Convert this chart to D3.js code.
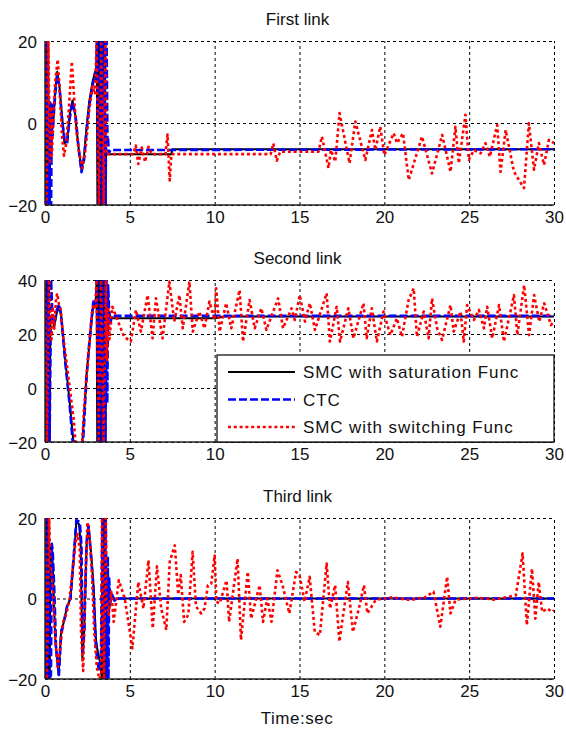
<!DOCTYPE html>
<html>
<head>
<meta charset="utf-8">
<script src="https://cdn.jsdelivr.net/npm/d3@7"></script>
<style>
  body { margin: 0; background: #fff; }
  svg { font-family: "Liberation Sans", Arial, sans-serif; }
  .grid line { stroke: #000; stroke-dasharray: 3,3; stroke-width: 1; }
  .grid text { font-size: 17px; fill: #111; }
</style>
</head>
<body>
<svg id="chart" width="566" height="732"></svg>
<script>
// time axis ticks (sec)
var timeTicks = [0, 5, 10, 15, 20, 25, 30];
var titles = ["First link", "Second link", "Third link"];
var yTicks1 = [-20, 0, 20];
var yTicks2 = [-20, 0, 20, 40];
var yTicks3 = [-20, 0, 20];
var seriesNames = ["SMC with saturation Func", "CTC", "SMC with switching Func"];

// ---- First link: [time, value] ----
var link1Sat = [[0,20],[0.03,-20],[0.06,20],[0.09,-20],[0.12,20],[0.15,-20],[0.18,20],[0.21,-20],[0.24,5],[0.28,-20],[0.32,4],[0.36,-6],[0.42,3],[0.5,1],[0.6,8],[0.72,12.5],[0.85,9],[1.0,2],[1.15,-5],[1.3,-4.5],[1.45,2],[1.62,5.5],[1.75,3],[1.95,-5],[2.15,-11.5],[2.3,-8],[2.45,-1],[2.6,5],[2.8,10],[2.95,12.5],[3.02,10],[3.05,20],[3.09,-20],[3.13,20],[3.17,-20],[3.21,20],[3.25,-20],[3.29,20],[3.33,-20],[3.37,20],[3.41,-20],[3.45,20],[3.49,-20],[3.53,20],[3.57,-20],[3.6,-7.6],[7.45,-7.6],[7.5,-6.4],[30,-6.4]];
var link1Ctc = [[0,20],[0.08,-20],[0.16,20],[0.24,-20],[0.3,5],[0.36,-20],[0.4,4.5],[0.45,-3],[0.5,1],[0.6,7],[0.72,11.5],[0.85,9],[1.0,1],[1.15,-4],[1.3,-5],[1.45,1],[1.62,5],[1.8,2],[1.95,-5],[2.15,-12],[2.3,-9],[2.45,-2],[2.6,4],[2.8,9],[2.95,12],[3.02,11],[3.07,20],[3.17,-20],[3.27,20],[3.37,-20],[3.47,20],[3.57,-20],[3.63,20],[3.68,-5],[3.72,-4],[3.76,-7.5],[3.85,-6.6],[30,-6.4]];
var link1Sw = [[0,20],[0.1,-20],[0.2,20],[0.25,3],[0.3,-10],[0.35,4],[0.4,-8],[0.48,0],[0.6,10],[0.75,15.5],[0.85,9],[1.0,-3],[1.12,-8],[1.25,-5],[1.4,3],[1.58,15],[1.72,6],[1.85,-2],[2.0,-7],[2.2,-11],[2.4,-6],[2.6,3],[2.8,9],[2.95,7],[3.04,20],[3.18,-20],[3.32,20],[3.46,-20],[3.56,20],[3.6,-7.6],[5.2,-7.6],[5.35,-5.5],[5.5,-10],[5.7,-6],[5.9,-9.5],[6.1,-5.8],[6.3,-7.6],[7.1,-7.6],[7.22,-2.8],[7.35,-14],[7.45,-7.6],[13.3,-7.6],[13.46,-5],[13.66,-9.2],[13.86,-7],[16.12,-7],[16.32,-3.3],[16.71,-11],[16.85,-6.6],[17.11,-9.4],[17.36,2.4],[17.95,-9.8],[18.29,0.35],[18.88,-9],[19.27,-1.7],[19.47,-6.6],[19.76,-0.9],[20,-7.8],[20.55,-2.5],[20.75,-4.9],[21.1,-2.5],[21.44,-13.9],[22.22,-3.3],[22.81,-12.3],[23.41,-2.9],[23.9,-11.9],[24.19,-0.9],[24.39,-9.8],[24.78,2],[24.98,-9],[25.28,-6.6],[25.67,-7.4],[25.96,-4.9],[26.22,-8.2],[26.65,-0.5],[26.85,-11.9],[27.15,-1.7],[27.64,-11.9],[28.23,-15.9],[28.52,-0.1],[28.82,-11.4],[29.11,-4.9],[29.41,-10.2],[29.7,-4.1],[30,-4.9]];

// ---- Second link ----
var link2Sat = [[0,40],[0.03,-20],[0.06,40],[0.09,-20],[0.12,40],[0.15,-20],[0.18,40],[0.21,-20],[0.24,40],[0.27,-20],[0.32,24],[0.42,25],[0.55,23],[0.7,28],[0.85,30],[0.95,27],[1.2,10],[1.45,-5],[1.75,-25],[2.15,-25],[2.45,5],[2.6,15],[2.75,25],[2.85,31],[2.98,30],[3.04,40],[3.08,-20],[3.12,40],[3.16,-20],[3.2,40],[3.24,-20],[3.28,40],[3.32,-20],[3.36,40],[3.4,-20],[3.44,40],[3.48,-20],[3.52,40],[3.56,-20],[3.6,40],[3.65,20],[3.75,27],[3.9,25.8],[10,25.8],[10.6,26.5],[30,26.5]];
var link2Ctc = [[0,40],[0.09,-20],[0.18,40],[0.27,-20],[0.36,40],[0.45,24],[0.55,24],[0.7,29],[0.85,31],[0.95,27],[1.2,9],[1.45,-6],[1.7,-25],[2.2,-25],[2.45,4],[2.6,16],[2.75,26],[2.85,32],[2.98,30],[3.06,40],[3.16,-20],[3.26,40],[3.36,-20],[3.46,40],[3.56,-20],[3.62,40],[3.67,-5.6],[3.72,38],[3.77,30],[3.85,24],[3.95,27],[4.1,26.7],[30,26.7]];
var link2Sw = [[0,40],[0.12,-20],[0.24,40],[0.3,28],[0.38,18],[0.45,30],[0.55,22],[0.65,33],[0.72,35],[0.82,31],[0.92,29],[1.1,18],[1.3,8],[1.5,-2],[1.7,-12],[1.85,-25],[2.15,-25],[2.3,-8],[2.45,5],[2.6,15],[2.75,27],[2.85,31],[2.97,29],[3.03,40],[3.17,-20],[3.31,40],[3.45,-20],[3.59,40],[3.65,10],[3.72,30],[3.8,18],[3.97,30.1],[4.27,25.2],[4.66,19],[5.06,17.2],[5.36,28.9],[5.65,20.9],[6.05,34.4],[6.34,18.4],[6.54,33.2],[6.93,18.4],[7.33,39.4],[7.62,24.6],[7.92,34.4],[8.12,22.1],[8.51,39.4],[8.71,20.9],[9.1,28.3],[9.4,22.1],[9.69,32],[9.99,25.2],[10.09,36.9],[10.29,20.9],[10.68,31.4],[10.98,22.1],[11.47,36.3],[11.67,17.2],[12.06,32.6],[12.36,22.1],[12.75,29.5],[13.05,21.5],[13.74,33.2],[14.03,22.1],[14.53,29.5],[14.72,25.2],[15.02,34.4],[15.32,24.6],[15.61,31.4],[15.91,21.5],[16.6,35.1],[16.79,17.2],[17.19,30.1],[17.39,17.2],[17.88,29.5],[18.18,18.4],[18.77,31.4],[18.96,18.4],[19.26,29.5],[19.56,17.2],[19.95,28.3],[20.35,19.6],[20.74,25.8],[21.04,19],[21.43,32.6],[21.73,36.9],[21.92,19],[22.32,28.3],[22.61,18.4],[22.81,33.2],[23.11,22.1],[23.4,17.8],[23.9,30.7],[24.09,20.9],[24.49,28.3],[24.68,17.2],[24.88,30.7],[25.28,25.2],[25.57,28.9],[25.87,22.1],[26.06,30.1],[26.36,18.4],[26.76,30.7],[27.05,17.2],[27.64,34.4],[27.84,19.6],[28.24,38.1],[28.53,19.6],[28.83,34.4],[29.13,24.6],[29.42,31.4],[29.82,23.3],[30,24.6]];

// ---- Third link ----
var link3Sat = [[0,20],[0.03,-20],[0.06,20],[0.09,-20],[0.12,20],[0.15,-20],[0.18,20],[0.21,-20],[0.24,20],[0.28,-20],[0.32,13],[0.42,12],[0.5,3],[0.6,-10],[0.8,-19],[0.95,-8],[1.1,-6],[1.3,-2],[1.5,0],[1.7,10],[1.85,19],[2.0,18.5],[2.1,14],[2.2,-15],[2.3,-9],[2.45,13],[2.55,18],[2.7,12],[2.85,4],[3.0,-10],[3.1,-13],[3.25,-16],[3.35,-20],[3.38,20],[3.42,-20],[3.46,20],[3.5,-20],[3.54,20],[3.58,-20],[3.62,5],[3.7,3],[3.8,-2],[3.9,1],[4.1,-0.5],[4.3,0],[30,0]];
var link3Ctc = [[0,20],[0.09,-20],[0.18,20],[0.27,-20],[0.35,-19],[0.4,13.6],[0.45,12],[0.55,2],[0.65,-12],[0.82,-19],[0.95,-9],[1.1,-6],[1.3,-2],[1.5,0],[1.7,11],[1.85,19.5],[2.05,19],[2.15,13],[2.22,-14],[2.32,-8],[2.45,14],[2.57,18],[2.7,11],[2.85,3],[3.0,-12],[3.1,-16],[3.2,-18],[3.3,-14],[3.38,20],[3.48,-20],[3.58,20],[3.66,-20],[3.7,10.5],[3.74,-20],[3.78,5],[3.85,-1],[3.95,1],[4.1,-0.5],[4.3,0],[30,0]];
var link3Sw = [[0,20],[0.12,-20],[0.24,20],[0.32,8],[0.45,4],[0.6,-10],[0.75,-17],[0.9,-12],[1.05,-6],[1.25,-4],[1.45,0],[1.65,8],[1.8,14],[1.92,16],[2.05,12],[2.12,-8],[2.25,-18],[2.35,2],[2.5,19],[2.62,16],[2.75,8],[2.9,-8],[3.05,-17],[3.2,-20],[3.32,-19],[3.36,20],[3.48,-20],[3.58,20],[3.62,0],[3.75,-4],[3.9,1.7],[4.05,-5.8],[4.35,4.5],[4.7,0],[5.15,-12.4],[5.5,4.1],[5.8,-2.5],[6.1,9.5],[6.35,-7.4],[6.6,8],[6.85,-2.5],[7.15,-7.8],[7.35,9.1],[7.65,13.2],[7.85,1],[8.0,5.8],[8.2,-5.8],[8.45,-4],[8.7,11.6],[8.9,-2],[9.2,-3.7],[9.4,-2.5],[9.6,3.3],[9.8,3.7],[10.0,10.7],[10.1,-0.8],[10.3,-1.2],[10.7,4.5],[10.85,-5.8],[11.35,9.9],[11.55,-10.3],[11.95,6.6],[12.15,-5],[12.65,3.3],[12.85,-5.8],[13.1,0],[13.35,-5.8],[13.7,7],[14.0,3.3],[14.4,-3.7],[14.8,6.6],[15.0,5.8],[15.3,-0.8],[15.6,5.4],[15.9,-8.3],[16.2,-9.1],[16.6,8.7],[16.8,-2.5],[17.1,3.3],[17.35,-10.7],[17.85,4.1],[18.15,-8.3],[18.5,-2.5],[18.8,3.3],[19.0,-3.7],[19.5,-0.3],[20.5,0.3],[21.5,-0.4],[22.4,0.3],[22.9,1.7],[23.3,-7],[23.7,5.4],[23.9,-3.7],[24.2,-0.3],[25.5,0.2],[26.5,-0.3],[27.75,0.8],[28.15,11.2],[28.4,-6.6],[28.7,7.4],[28.9,-5],[29.1,4.1],[29.3,-3.3],[29.6,-2.5],[29.9,-3.3],[30,-2.9]];

var panels = [
    {title: titles[0], top: 41, bottom: 205, yTicks: yTicks1, series: [link1Sat, link1Ctc, link1Sw]},
    {title: titles[1], top: 280, bottom: 442, yTicks: yTicks2, series: [link2Sat, link2Ctc, link2Sw]},
    {title: titles[2], top: 518, bottom: 679, yTicks: yTicks3, series: [link3Sat, link3Ctc, link3Sw]}
];

// line looks: black solid, blue dashed, red dotted (matlab style)
var styles = [
    {color: "#000", width: 2, dash: null},
    {color: "#0000ff", width: 2.6, dash: "8,3"},
    {color: "#ff0000", width: 2.6, dash: "3,2.8"}
];

var left = 45, right = 554;
var svg = d3.select("#chart");
svg.append("rect").attr("width", 566).attr("height", 732).attr("fill", "#fff");

var x = d3.scaleLinear().domain([0, 30]).range([left, right]);

panels.forEach(function (p, k) {
    var y = d3.scaleLinear()
        .domain(d3.extent(p.yTicks))
        .range([p.bottom, p.top]);
    var g = svg.append("g");

    g.append("clipPath").attr("id", "clip" + k)
        .append("rect")
        .attr("x", left).attr("y", p.top)
        .attr("width", right - left).attr("height", p.bottom - p.top);

    // grid via the axes (negative tick size)
    var xAxis = g.append("g").attr("class", "grid")
        .attr("transform", "translate(0," + p.bottom + ")")
        .call(d3.axisBottom(x).tickValues(timeTicks).tickSize(-(p.bottom - p.top)).tickPadding(6));
    var yAxis = g.append("g").attr("class", "grid")
        .attr("transform", "translate(" + left + ",0)")
        .call(d3.axisLeft(y).tickValues(p.yTicks).tickSize(-(right - left)).tickPadding(8));
    xAxis.select(".domain").remove();
    yAxis.select(".domain").remove();
    yAxis.selectAll("text").attr("dy", "0.36em");

    var line = d3.line()
        .x(function (d) { return x(d[0]); })
        .y(function (d) { return y(d[1]); });

    var lines = g.append("g").attr("clip-path", "url(#clip" + k + ")");
    p.series.forEach(function (s, i) {
        lines.append("path")
            .attr("d", line(s))
            .attr("fill", "none")
            .attr("stroke", styles[i].color)
            .attr("stroke-width", styles[i].width)
            .attr("stroke-dasharray", styles[i].dash)
            .attr("stroke-linejoin", "round");
    });

    // solid left + bottom axis lines
    g.append("line").attr("x1", left).attr("x2", left).attr("y1", p.top).attr("y2", p.bottom)
        .attr("stroke", "#222").attr("stroke-width", 1.5);
    g.append("line").attr("x1", left).attr("x2", right).attr("y1", p.bottom).attr("y2", p.bottom)
        .attr("stroke", "#222").attr("stroke-width", 1.5);

    g.append("text")
        .attr("x", (left + right) / 2 - 2)
        .attr("y", p.top - 16)
        .attr("text-anchor", "middle")
        .attr("font-size", 17)
        .attr("fill", "#111")
        .text(p.title);
});

svg.append("text")
    .attr("x", 297).attr("y", 724)
    .attr("text-anchor", "middle")
    .attr("font-size", 17)
    .attr("letter-spacing", 0.5)
    .attr("fill", "#111")
    .text("Time:sec");

// legend sits inside the second panel
var legend = svg.append("g");
legend.append("rect")
    .attr("x", 217).attr("y", 355)
    .attr("width", 337).attr("height", 87)
    .attr("fill", "#fff").attr("stroke", "#000").attr("stroke-width", 1.2);
seriesNames.forEach(function (name, i) {
    var ly = 372 + i * 27.5;
    legend.append("line")
        .attr("x1", 228).attr("x2", 295)
        .attr("y1", ly).attr("y2", ly)
        .attr("stroke", styles[i].color)
        .attr("stroke-width", styles[i].width)
        .attr("stroke-dasharray", styles[i].dash);
    legend.append("text")
        .attr("x", 303).attr("y", ly + 6)
        .attr("font-size", 17)
        .attr("letter-spacing", 0.9)
        .attr("fill", "#111")
        .text(name);
});
</script>
</body>
</html>
